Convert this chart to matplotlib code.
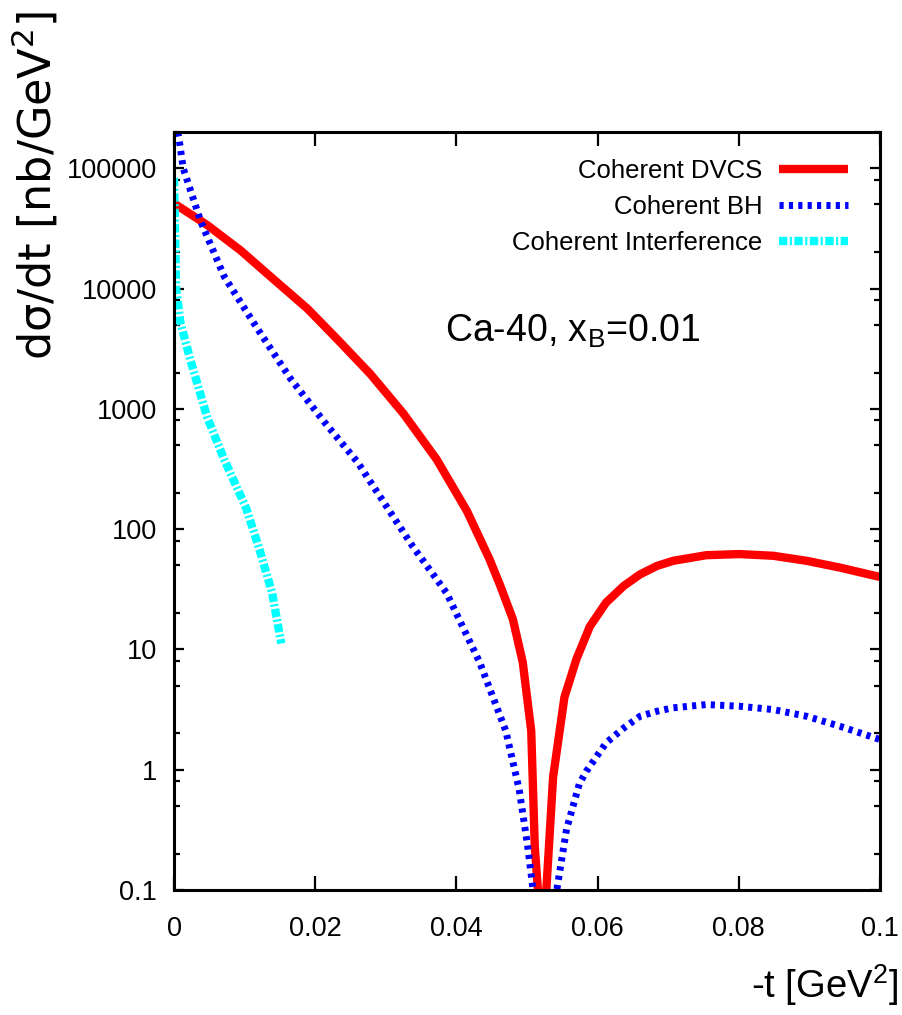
import matplotlib
matplotlib.use('Agg')
import matplotlib.pyplot as plt
from matplotlib.ticker import LogLocator, NullFormatter

# coherent DVCS, Ca-40, x_B = 0.01  (-t in GeV^2, dsigma/dt in nb/GeV^2)
t_dvcs = [0.0, 0.0047, 0.0094, 0.0142, 0.0189, 0.0231, 0.0278, 0.0325, 0.0372,
          0.0415, 0.0447, 0.0462, 0.048, 0.0494, 0.0506, 0.0511, 0.0522, 0.0537,
          0.0553, 0.057, 0.0589, 0.0612, 0.0637, 0.066, 0.0684, 0.0707, 0.0754,
          0.0801, 0.0849, 0.0896, 0.0943, 0.1]
dvcs = [51000, 33700, 20800, 11800, 6800, 3800, 1950, 912, 380,
        141, 56, 34, 17.8, 7.8, 2.1, 0.23, 0.03, 0.87,
        4.0, 8.3, 15.5, 24.5, 33.7, 42, 49.4, 54.5, 60.7,
        62, 60, 54.5, 47.9, 40]

# coherent Bethe-Heitler
t_bh = [0.0, 0.0007, 0.0013, 0.0038, 0.0071, 0.0118, 0.0165, 0.0213, 0.026, 0.0312,
        0.0338, 0.0386, 0.0433, 0.047, 0.0489, 0.0501, 0.0508, 0.0525, 0.0543,
        0.0556, 0.0574, 0.0584, 0.0612, 0.0637, 0.066, 0.0684, 0.0707, 0.0754,
        0.0801, 0.0849, 0.0896, 0.0943, 0.1]
bh = [282000, 178000, 100000, 36000, 12600, 4650, 1780, 776, 360, 123,
      72, 29.5, 7.8, 2.1, 0.68, 0.23, 0.107, 0.02, 0.107,
      0.32, 0.76, 0.97, 1.67, 2.22, 2.78, 3.06, 3.27, 3.48,
      3.37, 3.16, 2.78, 2.3, 1.78]

# coherent DVCS/BH interference
t_int = [0.0, 0.0003, 0.0009, 0.0023, 0.0047, 0.0071, 0.0102, 0.0121, 0.0139, 0.0152]
interf = [83000, 10000, 5250, 2570, 851, 380, 151, 68, 29.5, 11.2]

y_ticks = [0.1, 1, 10, 100, 1000, 1e4, 1e5]
y_labels = ['0.1', '1', '10', '100', '1000', '10000', '100000']
x_ticks = [0, 0.02, 0.04, 0.06, 0.08, 0.1]
x_labels = ['0', '0.02', '0.04', '0.06', '0.08', '0.1']

plt.rcParams['font.family'] = ['Liberation Sans', 'DejaVu Sans']
plt.rcParams['mathtext.fontset'] = 'custom'
plt.rcParams['mathtext.rm'] = 'Liberation Sans'
plt.rcParams['mathtext.it'] = 'Liberation Sans:italic'
plt.rcParams['mathtext.sf'] = 'DejaVu Sans'

W, H = 903, 1015
fig = plt.figure(figsize=(W / 100, H / 100), dpi=100)
ax = fig.add_axes([174 / W, 125 / H, 706 / W, 758 / H])

ax.plot(t_dvcs, dvcs, color='#ff0000', lw=6, solid_capstyle='butt',
        solid_joinstyle='round', label='Coherent DVCS')
ax.plot(t_bh, bh, color='#0000ff', lw=5, linestyle=(0, (0.6, 0.75)),
        dash_capstyle='butt', label='Coherent BH')
ax.plot(t_int, interf, color='#00ffff', lw=6, linestyle=(0, (1.0, 0.3, 0.25, 0.3)),
        dash_capstyle='butt', label='Coherent Interference')

ax.set_yscale('log')
ax.set_xlim(0, 0.1)
ax.set_ylim(0.1, 2e5)
ax.set_yticks(y_ticks, labels=y_labels)
ax.yaxis.set_minor_locator(LogLocator(base=10, subs=(2, 5, 8)))
ax.yaxis.set_minor_formatter(NullFormatter())
ax.set_xticks(x_ticks, labels=x_labels)

for s in ax.spines.values():
    s.set_linewidth(2.2)
ax.tick_params(which='both', direction='in', top=True, right=True, width=1.6)
ax.tick_params(axis='y', which='major', length=7, pad=12, labelsize=19.5)
ax.tick_params(axis='y', which='minor', length=4.5)
ax.tick_params(axis='x', which='major', length=10, pad=19, labelsize=19.5)

fig.text(35 / W, 1 - 185 / H, 'dσ/dt [nb/GeV$^{\\mathsf{2}}$]', rotation=90,
         ha='center', va='center', fontsize=32, family='DejaVu Sans')
fig.text(898 / W, 1 - 985 / H, '-t [GeV$^2$]', ha='right', va='center', fontsize=27.5)

ax.text(0.384, 0.723, 'Ca-40, x$_{\\rm B}$=0.01', transform=ax.transAxes,
        ha='left', va='baseline', fontsize=27)

ax.legend(loc='upper right', bbox_to_anchor=(0.955, 0.965), markerfirst=False,
          frameon=False, fontsize=18.5, handlelength=2.7, handletextpad=0.65,
          labelspacing=0.47, borderpad=0, borderaxespad=0)

fig.savefig('out.png', dpi=100)
